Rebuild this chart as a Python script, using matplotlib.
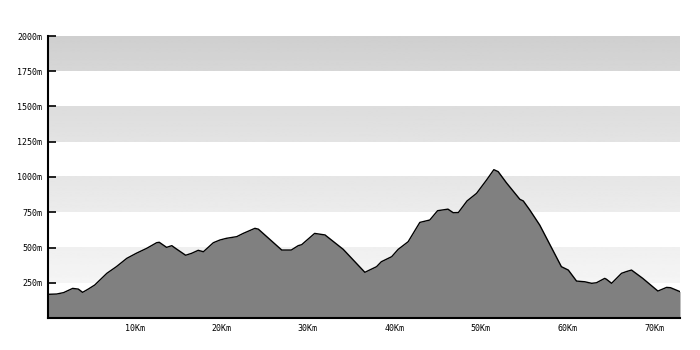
import numpy as np
import matplotlib
matplotlib.use("Agg")
import matplotlib.pyplot as plt

# elevation profile (km, metres)
distance_km = [0, 1.0, 1.8, 2.85, 3.5, 4.0, 4.65, 5.4, 6.8, 7.9, 9.1, 10.2, 11.4,
               12.55, 12.85, 13.7, 14.3, 14.85, 15.9, 16.6, 17.35, 17.95, 19.1,
               19.85, 20.6, 21.8, 22.55, 23.9, 24.3, 27.0, 28.1, 28.9, 29.3, 30.8,
               32.0, 34.1, 36.6, 37.95, 38.5, 39.7, 40.45, 41.6, 42.95, 44.1, 45.0,
               46.2, 46.8, 47.4, 48.4, 49.5, 50.65, 51.5, 52.0, 52.95, 54.5, 54.9,
               55.65, 56.8, 59.3, 60.1, 61.05, 62.0, 62.8, 63.35, 64.3, 64.5, 65.1,
               66.25, 66.8, 67.4, 68.7, 70.45, 71.45, 71.9, 73.0]
elevation_m = [168, 170, 180, 210, 205, 182, 205, 234, 317, 364, 423, 459, 494,
               534, 537, 501, 513, 489, 445, 459, 480, 470, 534,
               553, 565, 577, 600, 636, 630, 482, 482, 513, 520, 600,
               589, 487, 324, 364, 399, 435, 487, 541, 678, 695, 761,
               772, 747, 748, 830, 884, 978, 1052, 1038, 959, 842, 830,
               766, 659, 364, 340, 262, 257, 246, 250, 281, 275, 246,
               317, 329, 340, 281, 191, 217, 215, 187]

x_ticks = [10, 20, 30, 40, 50, 60, 70]
x_labels = ["10Km", "20Km", "30Km", "40Km", "50Km", "60Km", "70Km"]
y_ticks = [250, 500, 750, 1000, 1250, 1500, 1750, 2000]
y_labels = ["250m", "500m", "750m", "1000m", "1250m", "1500m", "1750m", "2000m"]

# grey bands (grey level at top, grey level at bottom), darker towards the top
bands = [(250, 500, 0.94, 0.96), (750, 1000, 0.90, 0.925),
         (1250, 1500, 0.865, 0.89), (1750, 2000, 0.81, 0.84)]

X_MAX = 73

fig = plt.figure(figsize=(7, 3.5), dpi=100)
ax = fig.add_axes([48 / 700, 32 / 350, 632 / 700, 282 / 350])

for lo, hi, g_top, g_bot in bands:
    grad = np.linspace(g_top, g_bot, 32).reshape(-1, 1)
    ax.imshow(grad, cmap="gray", vmin=0, vmax=1, aspect="auto",
              extent=(0, X_MAX, lo, hi), origin="upper", zorder=0,
              interpolation="bilinear")

ax.fill_between(distance_km, elevation_m, 0, color="#808080", lw=0, zorder=2)
ax.plot(distance_km, elevation_m, color="black", lw=1.0, zorder=3)

ax.set_xlim(0, X_MAX)
ax.set_ylim(0, 2000)
ax.set_xticks(x_ticks)
ax.set_xticklabels(x_labels)
ax.set_yticks(y_ticks)
ax.set_yticklabels(y_labels)

ax.tick_params(direction="in", length=6, width=1.2, labelsize=6, pad=4,
               colors="black")
for lab in ax.get_xticklabels() + ax.get_yticklabels():
    lab.set_family("DejaVu Sans Mono")

ax.spines["top"].set_visible(False)
ax.spines["right"].set_visible(False)
ax.spines["left"].set_linewidth(1.5)
ax.spines["bottom"].set_linewidth(1.5)
ax.set_facecolor("white")

fig.savefig("out.png", dpi=100)
